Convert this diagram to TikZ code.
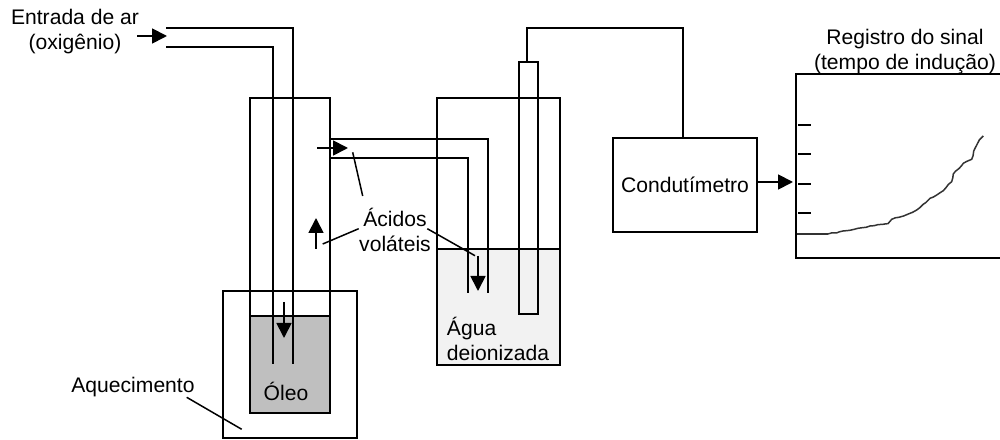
\documentclass[tikz,border=0pt]{standalone}
\usepackage{fontspec}
\setmainfont{Liberation Sans}
\usetikzlibrary{arrows.meta,positioning,decorations.pathmorphing}

\begin{document}
\begin{tikzpicture}[y=-1bp,x=1bp,line width=1.8bp,
	flow/.style={-{Triangle[length=15bp,width=15bp]},line width=1.8bp},
	leader/.style={line width=1.5bp},
	tube/.style={line width=1.8bp},
	lbl/.style={font=\fontsize{21.1bp}{25bp}\selectfont,align=center,inner sep=0pt},
	panel/.style={draw,rectangle,line width=1.8bp,inner sep=0pt}]
	\newcommand\Tick{+(0,0) -- +(13,0)}

	\useasboundingbox (0,0) rectangle (1000,440);

	\fill[fill=black!25] (250,316) rectangle (330,413);
	\fill[fill=black!5] (437,249) rectangle (560,365);

	\draw (223,291) rectangle (357,438);
	\draw (250,98) rectangle (330,413);
	\draw (250,316) -- (330,316);
	\draw (437,98) rectangle (560,365);
	\draw (437,249) -- (560,249);

	\draw[tube] (166,28) -- (293,28) -- (293,364);
	\draw[tube] (166,47) -- (273,47) -- (273,364);
	\draw[tube] (330,139) -- (488,139) -- (488,293);
	\draw[tube] (329,158) -- (468,158) -- (468,293);
	\draw (519,62) rectangle (538,314);

	\node[lbl] (entrada) at (75,32) {Entrada de ar\\(oxigênio)};
	\node[lbl] (oleo) at (286,391) {Óleo};
	\node[lbl,align=left] (agua) at (498,339) {Água\\deionizada};
	\node[lbl] (acidos) at (395,230) {Ácidos\\voláteis};
	\node[lbl] (aquec) at (133,387) {Aquecimento};
	\node[lbl] (registro) at (905,52) {Registro do sinal\\(tempo de indução)};
	\node[panel,lbl,minimum width=144bp,minimum height=94bp] (cond) at (685,185) {Condutímetro};

	\coordinate (ar0) at (137,36);
	\coordinate (ar1) at (167,36);
	\coordinate (oil0) at (284,302);
	\coordinate (oil1) at (284,338);
	\coordinate (up0) at (316,249);
	\coordinate (up1) at (316,218);
	\coordinate (out0) at (317,148);
	\coordinate (out1) at (348,148);
	\coordinate (wat0) at (478,256);
	\coordinate (wat1) at (478,291);
	\coordinate (reg) at (793,182);
	\coordinate (wire0) at (527,62);
	\coordinate (wire1) at (683,28);

	\draw[flow] (ar0) -- (ar1);
	\draw[flow] (oil0) -- (oil1);
	\draw[flow] (up0) -- (up1);
	\draw[flow] (out0) -- (out1);
	\draw[flow] (wat0) -- (wat1);
	\draw[flow] (cond.east |- reg) -- (reg);
	\draw[tube] (wire0) |- (wire1) -- (wire1 |- cond.north);

	\coordinate (acidA) at (352.7,152.3);
	\coordinate (acidB) at (322.7,244);
	\coordinate (acidC) at (475,255.7);
	\coordinate (aqA) at (241.7,429.3);
	\draw[leader] (362.7,196) -- (acidA);
	\draw[leader] (358.7,228.7) -- (acidB);
	\draw[leader] (427.3,228.7) -- (acidC);
	\draw[leader] (186.7,397.3) -- (aqA);

	\draw (1002,74) -- (796,74) -- (796,258) -- (1002,258);
	\draw[tube] (798,125) \Tick;
	\draw[tube] (798,154) \Tick;
	\draw[tube] (798,184) \Tick;
	\draw[tube] (798,213) \Tick;
	\draw[line width=1.5bp,black!80] (796.7,234) -- (828,234);
	\draw[line width=1.5bp,black!80,decorate,decoration={random steps,segment length=4bp,amplitude=0.6bp}] (828,234) -- (846.7,230.7) -- (858,228.3) -- (870,226) -- (888,223.7) -- (891.7,219.3) -- (908.3,214) -- (916.7,210) -- (930,198.3) -- (943.3,190.7) -- (951.7,181.7) -- (953.3,174) -- (963.3,163.3) -- (971.7,159.3) -- (975,148.3) -- (979.3,140) -- (983.3,136);
\end{tikzpicture}
\end{document}
